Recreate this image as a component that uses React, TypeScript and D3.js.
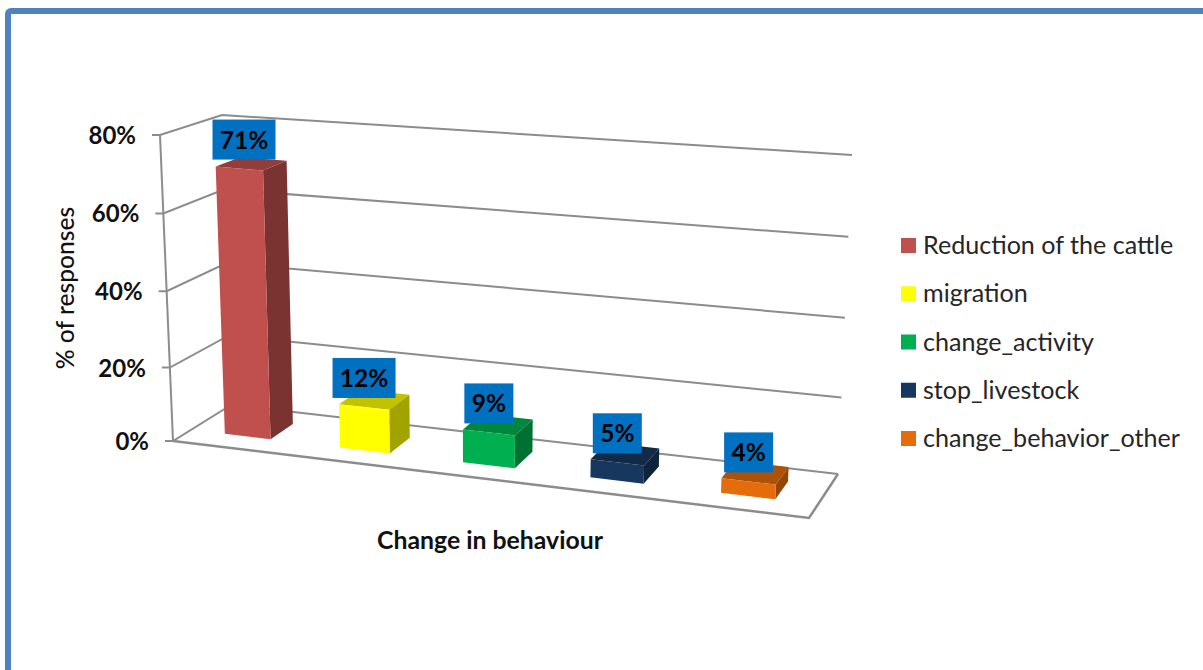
import React from "react";
import * as d3 from "d3";

// Chart content
const categories = ["Reduction of the cattle", "migration", "change_activity", "stop_livestock", "change_behavior_other"];
const shares = [71, 12, 9, 5, 4];
const barColors = ["#C0504D", "#FFFF00", "#00B050", "#17375E", "#E46C0A"];
const axisTicks = [0, 20, 40, 60, 80];
const xTitle = "Change in behaviour";
const yTitle = "% of responses";

type Pt = [number, number];

// Corners of the floor of the oblique 3-D box
const floorFL: Pt = [173, 441];
const floorFR: Pt = [809, 518];
const floorBL: Pt = [231, 405];
const floorBR: Pt = [838, 474];
// Where a full-height (80%) vertical edge takes each corner, as an offset
const riseFL: Pt = [-13, -306];
const riseFR: Pt = [14, -325];
const riseBL: Pt = [-9, -290];
const riseBR: Pt = [14, -319];

const mix = (a: Pt, b: Pt, t: number): Pt => [a[0] + (b[0] - a[0]) * t, a[1] + (b[1] - a[1]) * t];
const bilinear = (fl: Pt, fr: Pt, bl: Pt, br: Pt, u: number, d: number): Pt =>
  mix(mix(fl, fr, u), mix(bl, br, u), d);

// Height and width both pick up a little perspective, hence the power scales
const valueScale = d3.scalePow().exponent(1.03).domain([0, 80]).range([0, 1]);
const foreshorten = d3.scalePow().exponent(1.08).domain([0, 1]).range([0, 0.985]);
const band = d3.scaleBand<string>().domain(categories).range([0.009, 1.009]).paddingInner(0.59).paddingOuter(0.295);
const depthFront = 0.31;
const depthBack = 0.72;

function project(u: number, d: number, value: number): Pt {
  const base = bilinear(floorFL, floorFR, floorBL, floorBR, u, d);
  const rise = bilinear(riseFL, riseFR, riseBL, riseBR, u, d);
  const k = valueScale(value);
  return [base[0] + rise[0] * k, base[1] + rise[1] * k];
}

const path = d3.line<Pt>().x((p) => p[0]).y((p) => p[1]);
const poly = (pts: Pt[]) => path(pts) + "Z";
const shade = (color: string, k: number) => {
  const c = d3.rgb(color);
  return d3.rgb(c.r * k, c.g * k, c.b * k).formatHex();
};

const GRID = "#8C8C8C";
const FONT = "Lato, 'Open Sans', sans-serif";
const legendY = d3.scalePoint<string>().domain(categories).range([245.5, 438.5]);

export default function App() {
  return (
    <svg
      width={1203}
      height={670}
      viewBox="0 0 1203 670"
      style={{ position: "fixed", left: 0, top: 0, background: "#fff" }}
      fontFamily={FONT}
    >
      {/* Slide frame, running off the right and bottom edges */}
      <rect x={8} y={11} width={1300} height={800} rx={3} fill="none" stroke="#4F81BD" strokeWidth={6} />

      {/* Gridlines on the side and back walls, with ticks on the front edge */}
      {axisTicks.map((t) => {
        const front = project(0, 0, t);
        const back = project(0, 1, t);
        const right = project(1, 1, t);
        return (
          <g key={t}>
            <path d={path([[front[0] - 8, front[1]], front, back, right])!} fill="none" stroke={GRID} strokeWidth={2} />
            <text
              x={front[0] - 24}
              y={front[1] + 9}
              textAnchor="end"
              fontSize={24}
              fontWeight={700}
              fill="#111"
            >
              {t}%
            </text>
          </g>
        );
      })}
      <path d={path([project(0, 0, 0), project(0, 0, 80)])!} fill="none" stroke={GRID} strokeWidth={2} />
      <path
        d={path([project(0, 0, 0), project(1, 0, 0), project(1, 1, 0)])!}
        fill="none"
        stroke={GRID}
        strokeWidth={2.5}
      />

      {/* Columns */}
      {categories.map((cat, i) => {
        const start = band(cat)!;
        const u0 = foreshorten(start);
        const u1 = foreshorten(start + band.bandwidth());
        const v = shares[i];
        const color = barColors[i];
        const frontTop = [project(u0, depthFront, v), project(u1, depthFront, v)];
        const topFace = [frontTop[0], frontTop[1], project(u1, depthBack, v), project(u0, depthBack, v)];
        const sideFace = [frontTop[1], project(u1, depthFront, 0), project(u1, depthBack, 0), project(u1, depthBack, v)];
        const frontFace = [project(u0, depthFront, 0), project(u1, depthFront, 0), frontTop[1], frontTop[0]];
        return (
          <g key={cat}>
            <path d={poly(topFace)} fill={shade(color, 0.76)} />
            <path d={poly(sideFace)} fill={shade(color, 0.64)} />
            <path d={poly(frontFace)} fill={color} />
          </g>
        );
      })}

      {/* Value labels sit above the front top edge of each column */}
      {categories.map((cat, i) => {
        const start = band(cat)!;
        const top = project(foreshorten(start + band.bandwidth() / 2), depthFront, shares[i]);
        const w = shares[i] >= 10 ? 63 : 49;
        const h = 40;
        const bottom = top[1] - 9;
        const cx = top[0] + (i === 0 ? 5 : 0);
        return (
          <g key={cat}>
            <rect x={cx - w / 2} y={bottom - h} width={w} height={h} fill="#0070C0" />
            <text x={cx} y={bottom - h / 2 + 9} textAnchor="middle" fontSize={24.5} fontWeight={700} fill="#000">
              {shares[i]}%
            </text>
          </g>
        );
      })}

      {/* Axis titles */}
      <text x={490} y={549} textAnchor="middle" fontSize={24.8} fontWeight={700} fill="#111">
        {xTitle}
      </text>
      <text
        transform="translate(74,288) rotate(-90)"
        textAnchor="middle"
        fontSize={24.6}
        fontWeight={500}
        fill="#111"
      >
        {yTitle}
      </text>

      {/* Legend */}
      {categories.map((cat, i) => (
        <g key={cat} transform={`translate(0,${legendY(cat)})`}>
          <rect x={901} y={-7.5} width={15} height={15} fill={barColors[i]} />
          <text x={923} y={8.5} fontSize={25.1} fill="#262626">
            {cat}
          </text>
        </g>
      ))}
    </svg>
  );
}
